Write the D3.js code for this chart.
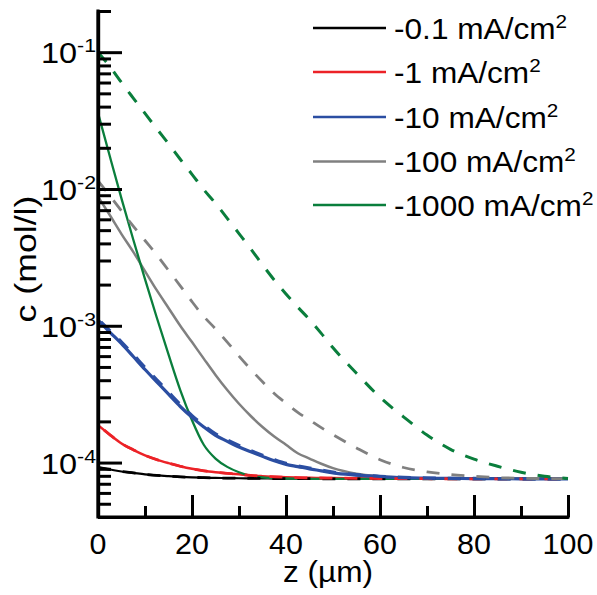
<!DOCTYPE html>
<html>
<head>
<meta charset="utf-8">
<script src="https://cdn.jsdelivr.net/npm/d3@7"></script>
<style>
  html, body { margin: 0; padding: 0; background: #fff; }
  svg { display: block; font-family: "Liberation Sans", Arial, sans-serif; }
</style>
</head>
<body>
<svg id="chart" width="597" height="595"></svg>
<script>
// ---------------- data ----------------
const zValues = [0, 2.5, 5, 7.5, 10, 12.5, 15, 17.5, 20, 22.5, 25, 27.5, 30, 32.5, 35, 37.5, 40,
                 42.5, 45, 47.5, 50, 55, 60, 65, 70, 75, 80, 85, 90, 95, 100];

const black01 = [9.2e-5, 8.9e-5, 8.6e-5, 8.4e-5, 8.2e-5, 8.05e-5, 7.95e-5, 7.87e-5, 7.8e-5, 7.75e-5,
                 7.72e-5, 7.7e-5, 7.68e-5, 7.66e-5, 7.65e-5, 7.64e-5, 7.63e-5, 7.62e-5, 7.62e-5, 7.61e-5,
                 7.61e-5, 7.6e-5, 7.6e-5, 7.6e-5, 7.6e-5, 7.6e-5, 7.6e-5, 7.6e-5, 7.6e-5, 7.6e-5, 7.6e-5];

const red1 = [1.88e-4, 1.6e-4, 1.38e-4, 1.24e-4, 1.13e-4, 1.05e-4, 9.9e-5, 9.4e-5, 9.0e-5, 8.7e-5,
              8.5e-5, 8.35e-5, 8.2e-5, 8.05e-5, 7.95e-5, 7.87e-5, 7.8e-5, 7.76e-5, 7.73e-5, 7.71e-5,
              7.7e-5, 7.67e-5, 7.65e-5, 7.63e-5, 7.62e-5, 7.61e-5, 7.6e-5, 7.6e-5, 7.6e-5, 7.6e-5, 7.6e-5];

const blue10 = [1.10e-3, 9.0e-4, 7.4e-4, 5.96e-4, 4.79e-4, 3.89e-4, 3.16e-4, 2.57e-4, 2.14e-4, 1.82e-4,
                1.58e-4, 1.43e-4, 1.30e-4, 1.20e-4, 1.11e-4, 1.03e-4, 9.7e-5, 9.35e-5, 9.0e-5, 8.7e-5,
                8.4e-5, 8.1e-5, 7.9e-5, 7.75e-5, 7.7e-5, 7.66e-5, 7.64e-5, 7.62e-5, 7.61e-5, 7.6e-5, 7.6e-5];

const blue10Dashed = [1.12e-3, 9.2e-4, 7.6e-4, 6.15e-4, 4.95e-4, 4.02e-4, 3.27e-4, 2.66e-4, 2.2e-4, 1.87e-4,
                      1.62e-4, 1.46e-4, 1.33e-4, 1.22e-4, 1.13e-4, 1.05e-4, 9.85e-5, 9.45e-5, 9.1e-5, 8.8e-5,
                      8.5e-5, 8.15e-5, 7.93e-5, 7.78e-5, 7.7e-5, 7.66e-5, 7.64e-5, 7.62e-5, 7.61e-5, 7.6e-5, 7.6e-5];

const grey100 = [8.8e-3, 6.45e-3, 4.68e-3, 3.47e-3, 2.51e-3, 1.82e-3, 1.35e-3, 1.0e-3, 7.6e-4, 5.75e-4,
                 4.37e-4, 3.39e-4, 2.69e-4, 2.19e-4, 1.82e-4, 1.55e-4, 1.35e-4, 1.17e-4, 1.07e-4, 9.8e-5,
                 9.1e-5, 8.3e-5, 7.95e-5, 7.76e-5, 7.67e-5, 7.64e-5, 7.62e-5, 7.61e-5, 7.6e-5, 7.6e-5, 7.6e-5];

const grey100Dashed = [1.15e-2, 8.95e-3, 6.9e-3, 5.35e-3, 4.2e-3, 3.3e-3, 2.54e-3, 1.96e-3, 1.5e-3, 1.17e-3,
                       9.5e-4, 7.6e-4, 6.0e-4, 4.8e-4, 3.9e-4, 3.2e-4, 2.72e-4, 2.33e-4, 2.05e-4, 1.8e-4,
                       1.6e-4, 1.28e-4, 1.05e-4, 9.2e-5, 8.55e-5, 8.17e-5, 7.95e-5, 7.76e-5, 7.68e-5, 7.64e-5, 7.62e-5];

const green1000 = [3.6e-2, 1.74e-2, 8.5e-3, 4.27e-3, 2.19e-3, 1.15e-3, 6.17e-4, 3.39e-4, 2.04e-4, 1.35e-4,
                   1.07e-4, 9.3e-5, 8.5e-5, 8.0e-5, 7.8e-5, 7.7e-5, 7.65e-5, 7.62e-5, 7.61e-5, 7.6e-5,
                   7.6e-5, 7.6e-5, 7.6e-5, 7.6e-5, 7.6e-5, 7.6e-5, 7.6e-5, 7.6e-5, 7.6e-5, 7.6e-5, 7.6e-5];

const green1000Dashed = [0.100, 0.0787, 0.0600, 0.0462, 0.0357, 0.0276, 0.0214, 0.0165, 0.0128, 0.0099,
                         0.00785, 0.0061, 0.00472, 0.00365, 0.00279, 0.00216, 0.00171, 0.00137, 0.00111, 8.8e-4,
                         6.9e-4, 4.5e-4, 3.0e-4, 2.16e-4, 1.59e-4, 1.25e-4, 1.06e-4, 9.4e-5, 8.5e-5, 7.94e-5, 7.64e-5];

const legendLabels = ["-0.1 mA/cm", "-1 mA/cm", "-10 mA/cm", "-100 mA/cm", "-1000 mA/cm"];
const colors = ["#000000", "#ec2227", "#2b4ea2", "#808080", "#0a7e3c"];

const xMajorTicks = [0, 20, 40, 60, 80, 100];
const xMinorTicks = [10, 30, 50, 70, 90];
const yMajorTicks = [1e-4, 1e-3, 1e-2, 1e-1];
const yMajorExp = ["-4", "-3", "-2", "-1"];

// ---------------- layout ----------------
const svg = d3.select("#chart");
const x = d3.scaleLinear().domain([0, 100]).range([98, 568]);
const y = d3.scaleLog().domain([4e-5, 0.2]).range([517, 11]);

const yMinorTicks = [];
[1e-5, 1e-4, 1e-3, 1e-2, 1e-1].forEach(d => {
  for (let k = 2; k <= 9; k++) {
    const v = k * d;
    if (v >= 4e-5 * 0.999 && v <= 0.2 * 1.001) yMinorTicks.push(v);
  }
});

const line = d3.line().x((d, i) => x(zValues[i])).y(d => y(d)).curve(d3.curveMonotoneX);

const plot = svg.append("g");

const solids = [
  { v: black01, c: colors[0], w: 2.2 },
  { v: red1, c: colors[1], w: 2.5 },
  { v: grey100, c: colors[3], w: 2.5 },
  { v: green1000, c: colors[4], w: 2.3 },
  { v: blue10, c: colors[2], w: 3.2 },
];
const dashed = [
  { v: black01, c: colors[0], w: 2.8, off: 0 },
  { v: red1, c: colors[1], w: 2.8, off: -8 },
  { v: blue10Dashed, c: colors[2], w: 3.4, off: -4 },
  { v: grey100Dashed, c: colors[3], w: 2.8, off: 0 },
  { v: green1000Dashed, c: colors[4], w: 3, off: 0 },
];

solids.forEach(s => {
  plot.append("path").datum(s.v).attr("d", line)
    .attr("fill", "none").attr("stroke", s.c).attr("stroke-width", s.w);
});
dashed.forEach(s => {
  plot.append("path").datum(s.v).attr("d", line)
    .attr("fill", "none").attr("stroke", s.c).attr("stroke-width", s.w)
    .attr("stroke-dasharray", "13,12").attr("stroke-dashoffset", s.off);
});

// ---------------- axes ----------------
function styleAxis(g) {
  g.selectAll("path.domain").attr("stroke", "#000").attr("stroke-width", 3.2);
  g.selectAll(".tick line").attr("stroke", "#000").attr("stroke-width", 3);
  g.selectAll(".tick text").remove();
}

svg.append("g").attr("transform", "translate(98,0)")
  .call(d3.axisRight(y).tickValues(yMinorTicks).tickSizeInner(13).tickSizeOuter(0).tickFormat(""))
  .call(styleAxis);
svg.append("g").attr("transform", "translate(98,0)")
  .call(d3.axisRight(y).tickValues(yMajorTicks).tickSizeInner(24).tickSizeOuter(0).tickFormat(""))
  .call(styleAxis);

svg.append("g").attr("transform", "translate(0,517)")
  .call(d3.axisTop(x).tickValues(xMinorTicks).tickSizeInner(11).tickSizeOuter(0).tickFormat(""))
  .call(styleAxis);
svg.append("g").attr("transform", "translate(0,517)")
  .call(d3.axisTop(x).tickValues(xMajorTicks.filter(d => d > 0)).tickSizeInner(22).tickSizeOuter(0).tickFormat(""))
  .call(styleAxis);

// corner
svg.append("path").attr("d", `M98,${y(0.2)}V517H${x(100)}`).attr("fill", "none")
  .attr("stroke", "#000").attr("stroke-width", 3.2).attr("stroke-linecap", "square");

// x tick labels
svg.append("g").selectAll("text").data(xMajorTicks).join("text")
  .attr("transform", d => `translate(${x(d)},554) scale(1.05,1)`)
  .attr("text-anchor", "middle").attr("font-size", 29).text(d => d);

// y tick labels
const yl = svg.append("g").selectAll("text").data(yMajorTicks).join("text")
  .attr("transform", d => `translate(41,${y(d) + 11}) scale(1.12,1)`).attr("font-size", 29);
yl.append("tspan").text("10");
yl.append("tspan").attr("font-size", 19).attr("dy", -11).text((d, i) => yMajorExp[i]);

// axis titles
svg.append("text").attr("transform", "translate(328,582) scale(1.09,1)").attr("text-anchor", "middle")
  .attr("font-size", 29).text("z (µm)");
svg.append("text").attr("transform", "translate(36,259) rotate(-90) scale(1.23,1)").attr("text-anchor", "middle")
  .attr("font-size", 29).text("c (mol/l)");

// ---------------- legend ----------------
const legendY = [28, 72, 117, 161.5, 205];
const lg = svg.append("g");
legendLabels.forEach((lab, i) => {
  lg.append("line").attr("x1", 313).attr("x2", 386).attr("y1", legendY[i]).attr("y2", legendY[i])
    .attr("stroke", colors[i]).attr("stroke-width", 2.5);
  const t = lg.append("text").attr("transform", `translate(394,${legendY[i] + 10.5}) scale(1.09,1)`)
    .attr("font-size", 29);
  t.append("tspan").text(lab);
  t.append("tspan").attr("font-size", 19).attr("dy", -11).text("2");
});
</script>
</body>
</html>
